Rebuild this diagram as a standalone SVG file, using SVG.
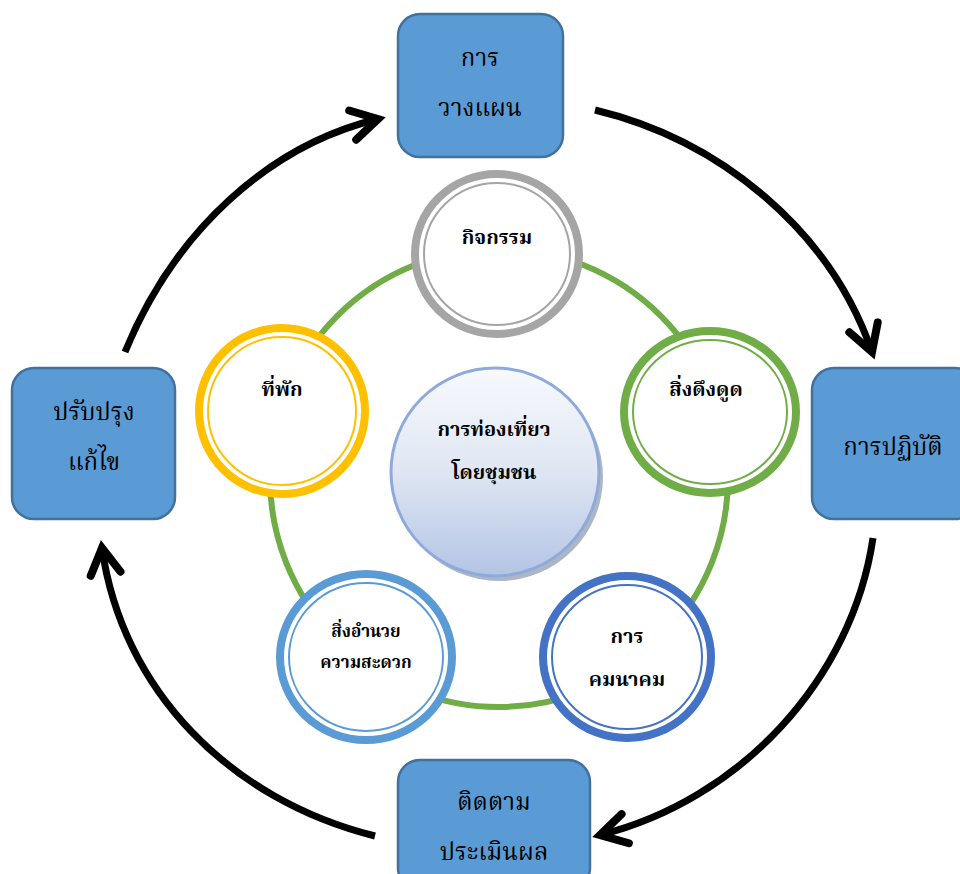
<svg xmlns="http://www.w3.org/2000/svg" width="960" height="874" viewBox="0 0 960 874">
<style>
.box{fill:#5b9bd5;stroke:#41719c;stroke-width:2.5}
.bt{font-family:"Liberation Serif","Noto Serif Thai","Noto Sans Thai",serif;font-size:24px;fill:#000;text-anchor:middle}
.ct{font-family:"Liberation Serif","Noto Serif Thai","Noto Sans Thai",serif;font-size:20px;font-weight:bold;fill:#000;text-anchor:middle}
.arrow{fill:none;stroke:#000;stroke-width:7}
.ring{fill:#fff}
.inner{fill:none;stroke-width:2}
</style>
<defs>
<marker id="chev" markerUnits="userSpaceOnUse" markerWidth="60" markerHeight="60" refX="0" refY="0" viewBox="-30 -30 60 60" orient="auto" overflow="visible">
<path d="M-26,-15 L0,0 L-26,15" fill="none" stroke="#000" stroke-width="8" stroke-linecap="round" stroke-linejoin="miter"/>
</marker>
<linearGradient id="cg" x1="0" y1="0" x2="0" y2="1">
<stop offset="0" stop-color="#f7f9fd"/>
<stop offset="0.5" stop-color="#dfe6f3"/>
<stop offset="1" stop-color="#b3c4e4"/>
</linearGradient>
</defs>

<g id="connectors">
<path class="arrow" d="M125,352 C175,230 270,145 378,119" marker-end="url(#chev)"/>
<path class="arrow" d="M595,110 C720,140 830,230 872,352" marker-end="url(#chev)"/>
<path class="arrow" d="M873,538 C852,680 740,800 600,835" marker-end="url(#chev)"/>
<path class="arrow" d="M375,836 C230,800 122,690 102,548" marker-end="url(#chev)"/>
<circle cx="499" cy="478" r="229" fill="none" stroke="#70ad47" stroke-width="6"/>
</g>

<g id="plan">
<rect class="box" x="398" y="14" width="165" height="143" rx="22"/>
<text class="bt" x="480" y="66">การ</text>
<text class="bt" x="480" y="116">วางแผน</text>
</g>
<g id="practice">
<rect class="box" x="812" y="368" width="165" height="151" rx="22"/>
<text class="bt" x="893" y="455">การปฏิบัติ</text>
</g>
<g id="evaluate">
<rect class="box" x="398" y="760" width="192" height="130" rx="22"/>
<text class="bt" x="494" y="810">ติดตาม</text>
<text class="bt" x="494" y="860">ประเมินผล</text>
</g>
<g id="improve">
<rect class="box" x="12" y="368" width="163" height="151" rx="22"/>
<text class="bt" x="94" y="420">ปรับปรุง</text>
<text class="bt" x="94" y="470">แก้ไข</text>
</g>

<g id="activity">
<ellipse class="ring" cx="497" cy="254" rx="82" ry="80" stroke="#a5a5a5" stroke-width="8"/>
<ellipse class="inner" cx="497" cy="254" rx="73" ry="71" stroke="#a5a5a5"/>
<text class="ct" x="497" y="244">กิจกรรม</text>
</g>
<g id="attraction">
<ellipse class="ring" cx="710" cy="412" rx="86" ry="81" stroke="#70ad47" stroke-width="8"/>
<ellipse class="inner" cx="710" cy="412" rx="77" ry="72" stroke="#70ad47"/>
<text class="ct" x="706" y="396">สิ่งดึงดูด</text>
</g>
<g id="transport">
<ellipse class="ring" cx="627" cy="657" rx="84" ry="81" stroke="#4472c4" stroke-width="8"/>
<ellipse class="inner" cx="627" cy="657" rx="75" ry="72" stroke="#4472c4"/>
<text class="ct" x="627" y="643">การ</text>
<text class="ct" x="627" y="686">คมนาคม</text>
</g>
<g id="facility">
<ellipse class="ring" cx="366" cy="657" rx="86" ry="83" stroke="#5b9bd5" stroke-width="8"/>
<ellipse class="inner" cx="366" cy="657" rx="77" ry="74" stroke="#5b9bd5"/>
<text class="ct" x="366" y="637" style="font-size:17px">สิ่งอำนวย</text>
<text class="ct" x="366" y="668" style="font-size:17px">ความสะดวก</text>
</g>
<g id="lodging">
<ellipse class="ring" cx="282" cy="411" rx="83" ry="83" stroke="#ffc000" stroke-width="8"/>
<ellipse class="inner" cx="282" cy="411" rx="74" ry="74" stroke="#ffc000"/>
<text class="ct" x="282" y="396">ที่พัก</text>
</g>

<g id="center">
<circle cx="499" cy="477" r="104" fill="#8a97ad" opacity="0.7"/>
<circle cx="495" cy="472" r="104" fill="url(#cg)" stroke="#8eaadb" stroke-width="3"/>
<text class="ct" x="494" y="436">การท่องเที่ยว</text>
<text class="ct" x="494" y="479">โดยชุมชน</text>
</g>
</svg>
